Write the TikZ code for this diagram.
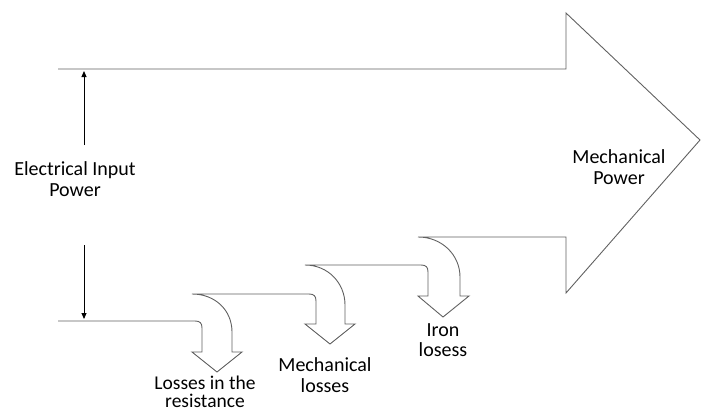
\documentclass[tikz,border=0pt]{standalone}
\usepackage{fontspec}
\setmainfont{Carlito}
\usetikzlibrary{arrows.meta}
\tikzset{
  outline/.style={draw=black!62, line width=0.9pt, line join=miter},
  dim/.style={draw=black, line width=0.9pt, -{Triangle[length=6pt,width=5pt]}},
  lbl/.style={align=center, inner sep=0pt, font=\fontsize{20}{20.5}\selectfont, text=black}
}
\begin{document}
\begin{tikzpicture}[x=1pt,y=-1pt]
\useasboundingbox (0,0) rectangle (701,412);

% power flow outline with the three loss branches
\draw[outline]
  (58,321) -- (195,321) .. controls (200,321) and (202,323) .. (202,328)
  -- (202,352) -- (192,352) -- (217,372) -- (242,352) -- (232,352)
  -- (232,332) .. controls (232,310) and (215,294) .. (192,294)
  -- (309,294) .. controls (314,294) and (316,296) .. (316,301)
  -- (316,324) -- (305,324) -- (330,344) -- (355,324) -- (345,324)
  -- (345,305) .. controls (345,283) and (328,265) .. (305,265)
  -- (421,265) .. controls (426,265) and (428,267) .. (428,272)
  -- (428,296) -- (418,296) -- (443,317) -- (469,296) -- (460,296)
  -- (460,277) .. controls (460,255) and (442,237) .. (418,237)
  -- (566,237) -- (566,293) -- (700,140) -- (566,13) -- (566,69) -- (58,69);

% labels
\node[lbl] (elec) at (75,179) {Electrical Input\\Power};
\node[lbl] (mech) at (619,167) {Mechanical\\Power};
\node[lbl] (iron) at (443,340) {Iron\\losess};
\node[lbl] (mloss) at (325,375) {Mechanical\\losses};
\node[lbl, font=\fontsize{19.5}{18.5}\selectfont] (rloss) at (205,392) {Losses in the\\resistance};

% input power dimension arrows
\coordinate (upS) at (84,145);
\coordinate (upE) at (84,71);
\coordinate (dnS) at (84,245);
\coordinate (dnE) at (84,319);
\draw[dim] (upS) -- (upE);
\draw[dim] (dnS) -- (dnE);
\end{tikzpicture}
\end{document}
